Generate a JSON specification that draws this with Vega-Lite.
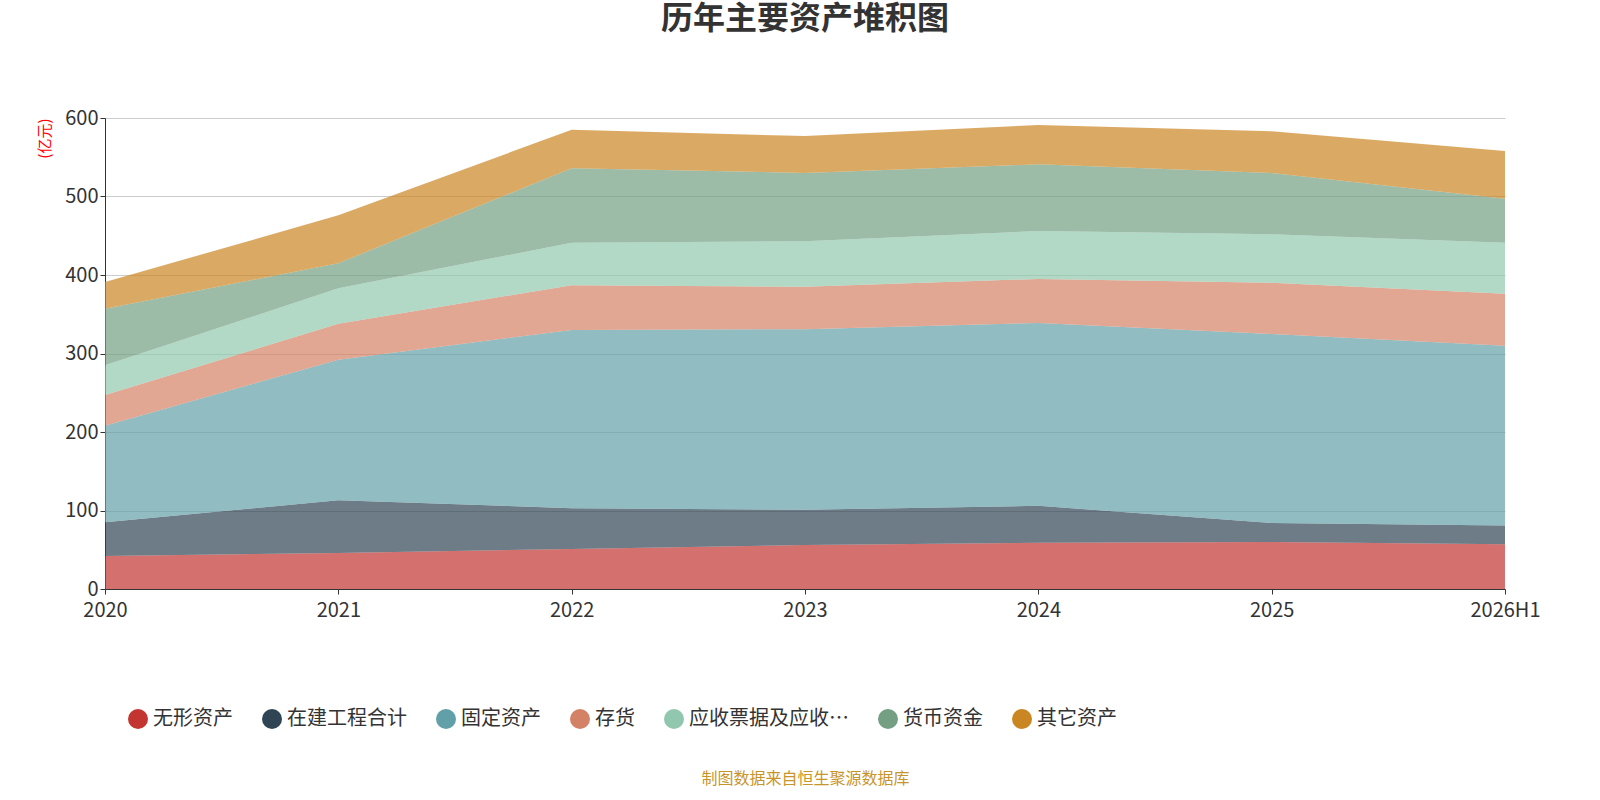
{
"$schema":"https://vega.github.io/schema/vega-lite/v6.json",
"autosize":{"type":"none"},
"width":1400,"height":471,
"padding":{"left":105,"top":118,"right":95,"bottom":211},
"background":"white",
"view":{"stroke":null},
"config":{"font":"Noto Sans CJK SC"},
"title":{"text":"历年主要资产堆积图","fontSize":32,"font":"Noto Sans CJK SC","fontWeight":"bold","color":"#333","offset":72,"anchor":"middle"},
"data":{"values":[
{"y":"2020","k":"无形资产","o":1,"v":42},{"y":"2021","k":"无形资产","o":1,"v":46},{"y":"2022","k":"无形资产","o":1,"v":51},{"y":"2023","k":"无形资产","o":1,"v":56},{"y":"2024","k":"无形资产","o":1,"v":59},{"y":"2025","k":"无形资产","o":1,"v":60},{"y":"2026H1","k":"无形资产","o":1,"v":57},
{"y":"2020","k":"在建工程合计","o":2,"v":43},{"y":"2021","k":"在建工程合计","o":2,"v":67},{"y":"2022","k":"在建工程合计","o":2,"v":52},{"y":"2023","k":"在建工程合计","o":2,"v":45},{"y":"2024","k":"在建工程合计","o":2,"v":47},{"y":"2025","k":"在建工程合计","o":2,"v":24},{"y":"2026H1","k":"在建工程合计","o":2,"v":24},
{"y":"2020","k":"固定资产","o":3,"v":123},{"y":"2021","k":"固定资产","o":3,"v":179},{"y":"2022","k":"固定资产","o":3,"v":227},{"y":"2023","k":"固定资产","o":3,"v":230},{"y":"2024","k":"固定资产","o":3,"v":233},{"y":"2025","k":"固定资产","o":3,"v":241},{"y":"2026H1","k":"固定资产","o":3,"v":229},
{"y":"2020","k":"存货","o":4,"v":39},{"y":"2021","k":"存货","o":4,"v":46},{"y":"2022","k":"存货","o":4,"v":57},{"y":"2023","k":"存货","o":4,"v":54},{"y":"2024","k":"存货","o":4,"v":56},{"y":"2025","k":"存货","o":4,"v":65},{"y":"2026H1","k":"存货","o":4,"v":66},
{"y":"2020","k":"应收票据及应收账款","o":5,"v":38},{"y":"2021","k":"应收票据及应收账款","o":5,"v":45},{"y":"2022","k":"应收票据及应收账款","o":5,"v":54},{"y":"2023","k":"应收票据及应收账款","o":5,"v":58},{"y":"2024","k":"应收票据及应收账款","o":5,"v":61},{"y":"2025","k":"应收票据及应收账款","o":5,"v":62},{"y":"2026H1","k":"应收票据及应收账款","o":5,"v":65},
{"y":"2020","k":"货币资金","o":6,"v":72},{"y":"2021","k":"货币资金","o":6,"v":32},{"y":"2022","k":"货币资金","o":6,"v":95},{"y":"2023","k":"货币资金","o":6,"v":87},{"y":"2024","k":"货币资金","o":6,"v":85},{"y":"2025","k":"货币资金","o":6,"v":78},{"y":"2026H1","k":"货币资金","o":6,"v":56},
{"y":"2020","k":"其它资产","o":7,"v":34},{"y":"2021","k":"其它资产","o":7,"v":61},{"y":"2022","k":"其它资产","o":7,"v":49},{"y":"2023","k":"其它资产","o":7,"v":47},{"y":"2024","k":"其它资产","o":7,"v":50},{"y":"2025","k":"其它资产","o":7,"v":53},{"y":"2026H1","k":"其它资产","o":7,"v":61}
]},
"mark":{"type":"area","fillOpacity":0.7},
"encoding":{
"x":{"field":"y","type":"ordinal","scale":{"type":"point","padding":0},
 "axis":{"labelAngle":0,"labelFontSize":20,"labelColor":"#333","labelFont":"Noto Sans CJK SC","domainColor":"#333","tickColor":"#333","grid":false,"labelPadding":6,
 "title":"制图数据来自恒生聚源数据库","titleFontSize":16,"titleColor":"#c8952a","titleFontWeight":"normal","titleFont":"Noto Sans CJK SC","titlePadding":150}},
"y":{"field":"v","type":"quantitative","stack":"zero","scale":{"domain":[0,600]},
 "axis":{"values":[0,100,200,300,400,500,600],"labelFontSize":20,"labelColor":"#333","labelFont":"Noto Sans CJK SC","domain":true,"domainColor":"#333","ticks":true,"tickColor":"#333","gridColor":"#ccc",
 "title":"(亿元)","titleColor":"red","titleFontSize":15,"titleFontWeight":"normal","titleAnchor":"end","titlePadding":12}},
"color":{"field":"k","type":"nominal","sort":["无形资产","在建工程合计","固定资产","存货","应收票据及应收账款","货币资金","其它资产"],
 "scale":{"range":["#c23531","#2f4554","#61a0a8","#d48265","#91c7ae","#749f83","#ca8622"]},
 "legend":{"orient":"none","legendX":22,"legendY":590,"direction":"horizontal","title":null,"symbolType":"circle","symbolSize":400,"symbolOpacity":1,"labelFontSize":20,"labelColor":"#333","labelFont":"Noto Sans CJK SC","columnPadding":28}},
"order":{"field":"o","type":"quantitative"}
}
}
